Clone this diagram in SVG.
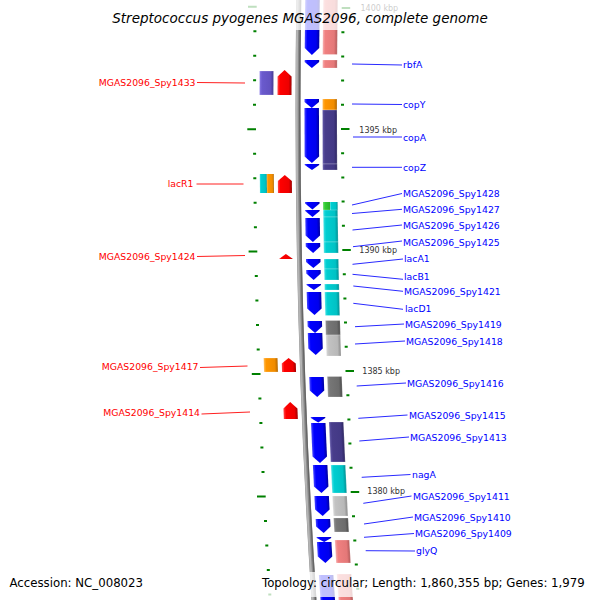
<svg xmlns="http://www.w3.org/2000/svg" width="600" height="600" viewBox="0 0 600 600">
<defs>
<linearGradient id="gBlue" x1="0" y1="0" x2="1" y2="0"><stop offset="0" stop-color="#4848ff"/><stop offset="0.18" stop-color="#0000ff"/><stop offset="0.78" stop-color="#0000ee"/><stop offset="1" stop-color="#0000a0"/></linearGradient>
<linearGradient id="gRed" x1="0" y1="0" x2="1" y2="0"><stop offset="0" stop-color="#ff4848"/><stop offset="0.18" stop-color="#ff0000"/><stop offset="0.78" stop-color="#ee0000"/><stop offset="1" stop-color="#a00000"/></linearGradient>
<linearGradient id="gPink" x1="0" y1="0" x2="1" y2="0"><stop offset="0" stop-color="#f6a8a8"/><stop offset="0.18" stop-color="#f08080"/><stop offset="0.78" stop-color="#e47878"/><stop offset="1" stop-color="#b05858"/></linearGradient>
<linearGradient id="gOrange" x1="0" y1="0" x2="1" y2="0"><stop offset="0" stop-color="#ffb84a"/><stop offset="0.18" stop-color="#ff9600"/><stop offset="0.78" stop-color="#f08c00"/><stop offset="1" stop-color="#b06600"/></linearGradient>
<linearGradient id="gDslate" x1="0" y1="0" x2="1" y2="0"><stop offset="0" stop-color="#6258a8"/><stop offset="0.18" stop-color="#483d8b"/><stop offset="0.78" stop-color="#433985"/><stop offset="1" stop-color="#2e2760"/></linearGradient>
<linearGradient id="gSlate" x1="0" y1="0" x2="1" y2="0"><stop offset="0" stop-color="#8878e6"/><stop offset="0.18" stop-color="#6a5acd"/><stop offset="0.78" stop-color="#6252c0"/><stop offset="1" stop-color="#463c90"/></linearGradient>
<linearGradient id="gTeal" x1="0" y1="0" x2="1" y2="0"><stop offset="0" stop-color="#40e0e2"/><stop offset="0.18" stop-color="#00ced1"/><stop offset="0.78" stop-color="#00c2c5"/><stop offset="1" stop-color="#008f92"/></linearGradient>
<linearGradient id="gGreen" x1="0" y1="0" x2="1" y2="0"><stop offset="0" stop-color="#60dd60"/><stop offset="0.3" stop-color="#32cd32"/><stop offset="1" stop-color="#2aae2a"/></linearGradient>
<linearGradient id="gDgray" x1="0" y1="0" x2="1" y2="0"><stop offset="0" stop-color="#8e8e8e"/><stop offset="0.18" stop-color="#767676"/><stop offset="0.78" stop-color="#6c6c6c"/><stop offset="1" stop-color="#4a4a4a"/></linearGradient>
<linearGradient id="gLgray" x1="0" y1="0" x2="1" y2="0"><stop offset="0" stop-color="#d8d8d8"/><stop offset="0.18" stop-color="#c2c2c2"/><stop offset="0.78" stop-color="#b8b8b8"/><stop offset="1" stop-color="#8a8a8a"/></linearGradient>
</defs>
<style>
.fwd{fill:url(#gBlue)}
.rev{fill:url(#gRed)}
.pink{fill:url(#gPink)}
.orange{fill:url(#gOrange)}
.dslate{fill:url(#gDslate)}
.slate{fill:url(#gSlate)}
.teal{fill:url(#gTeal)}
.green{fill:url(#gGreen)}
.dgray{fill:url(#gDgray)}
.lgray{fill:url(#gLgray)}
.cog{stroke:#ffffff;stroke-opacity:0.45;stroke-width:0.5}
.lr{font-family:"DejaVu Sans","Liberation Sans",sans-serif;font-size:9.3px;fill:#0000ff}
.ll{font-family:"DejaVu Sans","Liberation Sans",sans-serif;font-size:9.3px;fill:#ff0000;text-anchor:end}
.kbp{font-family:"DejaVu Sans","Liberation Sans",sans-serif;font-size:8px;fill:#333333}
.tick{stroke:#008000;stroke-width:2;fill:none}
.cr{stroke:#2a2aff;stroke-width:1;fill:none}
.cl{stroke:#ff2020;stroke-width:1;fill:none}
.info{font-family:"DejaVu Sans","Liberation Sans",sans-serif;font-size:11.75px;fill:#000000}
</style>
<rect x="0" y="0" width="600" height="600" fill="#ffffff"/>

<g id="backbone">
<path d="M298.8,0 Q294.4,300 314,600" stroke="#8a8a8a" stroke-width="5" fill="none"/>
<path d="M297.5,0 Q293.1,300 312.7,600" stroke="#b4b4b4" stroke-width="2" fill="none"/>
<path d="M300.5,0 Q296.1,300 315.7,600" stroke="#666666" stroke-width="1.4" fill="none"/>
</g>

<g id="ticks" class="tick">
<path d="M341.7,8H350.2M256.7,6.8H248"/>
<path d="M341.4,32.2h3M253.4,31.3h3M341.2,56.4h3M253.2,55.8h3M341.1,80.6h3M253.1,80.3h3M341,104.8h3M253,104.7h3"/>
<path d="M341,129H349.5M256,129.2H247.3"/>
<path d="M341.1,153.2h3M253.1,153.7h3M341.3,177.4h3M253.3,178.2h3M341.6,201.6h3M253.6,202.7h3M341.9,225.8h3M253.9,227.2h3"/>
<path d="M342.3,250H350.8M257.3,251.6H248.6"/>
<path d="M342.8,274.2h3M254.8,276.1h3M343.4,298.4h3M255.4,300.6h3M344,322.6h3M256,325.1h3M344.7,346.8h3M256.7,349.6h3"/>
<path d="M345.5,371H354M260.5,374.1H251.8"/>
<path d="M346.4,395.2h3M258.4,398.5h3M347.4,419.4h3M259.4,423h3M348.4,443.6h3M260.4,447.5h3M349.5,467.8h3M261.5,472h3"/>
<path d="M350.7,492H359.2M265.7,496.5H257"/>
<path d="M352,516.2h3M264,521h3M353.3,540.4h3M265.3,545.4h3M354.8,564.6h3M266.8,569.9h3M356.3,588.8h3M268.3,594.4h3"/>
</g>

<g id="scale-labels">
<text class="kbp" x="360.5" y="11">1400 kbp</text>
<text class="kbp" x="359.3" y="132.5">1395 kbp</text>
<text class="kbp" x="359.3" y="253">1390 kbp</text>
<text class="kbp" x="362.3" y="374">1385 kbp</text>
<text class="kbp" x="367.3" y="494">1380 kbp</text>
</g>

<g id="connectors">
<path class="cr" d="M352,64L402,65"/>
<path class="cr" d="M352,104L402,104.5"/>
<path class="cr" d="M353,137L402,137"/>
<path class="cr" d="M352,167.3L402,167.3"/>
<path class="cr" d="M352,205L402,193.5"/>
<path class="cr" d="M352,213.5L402,209.3"/>
<path class="cr" d="M352.5,230L402,225"/>
<path class="cr" d="M353,246.7L402,241"/>
<path class="cr" d="M352.5,264.3L403,259"/>
<path class="cr" d="M352.5,274.3L403,279.3"/>
<path class="cr" d="M353.3,286L403,291.3"/>
<path class="cr" d="M353.3,303.3L403,309.3"/>
<path class="cr" d="M355,326.7L404,324"/>
<path class="cr" d="M355,344L405,341"/>
<path class="cr" d="M356.7,386L406,383"/>
<path class="cr" d="M358.3,418.3L407.5,415"/>
<path class="cr" d="M359.3,441L409,437"/>
<path class="cr" d="M361.7,477.3L410.5,474.5"/>
<path class="cr" d="M363.3,503.3L411.5,496"/>
<path class="cr" d="M364,524L413,517"/>
<path class="cr" d="M364,537.3L414,533.5"/>
<path class="cr" d="M365.7,550.7L415,551"/>
<path class="cl" d="M197,82.5L245,83"/>
<path class="cl" d="M196.5,184L243.5,184"/>
<path class="cl" d="M197,256.5L245,255.5"/>
<path class="cl" d="M200,367.5L247.5,366"/>
<path class="cl" d="M201.5,414L250,412"/>
</g>

<g id="f-top"><g transform="translate(298.45,27.5) skewX(-0.63)"><polygon class="fwd" points="6.5,-36 21,-36 21,20.5 13.75,27.5 6.5,20.5"/><rect class="pink cog" x="24.5" y="-36" width="14.5" height="63"/></g></g>
<g id="f-rbfA"><g transform="translate(298.14,64) skewX(-0.35)"><polygon class="fwd" points="6.5,-4 21,-4 21,-2 13.75,4 6.5,-2"/><rect class="pink cog" x="24.5" y="-4" width="14.5" height="8"/></g><text class="lr" x="403" y="68">rbfA</text></g>
<g id="f-copY"><g transform="translate(298,103.5)"><polygon class="fwd" points="6.5,-4.5 21,-4.5 21,-1.5 13.75,4.5 6.5,-1.5"/><rect class="orange cog" x="24.5" y="-4.5" width="14.5" height="11"/></g><text class="lr" x="403" y="108">copY</text></g>
<g id="f-copA"><g transform="translate(298.04,135.5) skewX(0.19)"><polygon class="fwd" points="6.5,-27.5 21,-27.5 21,21 13.75,27.5 6.5,21"/><rect class="dslate cog" x="24.5" y="-25.5" width="14.5" height="54"/></g><text class="lr" x="403" y="141">copA</text></g>
<g id="f-copZ"><g transform="translate(298.22,167) skewX(0.43)"><polygon class="fwd" points="6.5,-3 21,-3 21,-2 13.75,3 6.5,-2"/><rect class="dslate cog" x="24.5" y="-3" width="14.5" height="6"/></g><text class="lr" x="403" y="171">copZ</text></g>
<g id="f-Spy1428"><g transform="translate(298.61,205.5) skewX(0.73)"><polygon class="fwd" points="6.5,-3.5 21,-3.5 21,-2 13.75,4 6.5,-2"/><rect class="green" x="24.5" y="-3.5" width="7" height="8"/><rect class="teal" x="31.5" y="-3.5" width="7.5" height="8"/></g><text class="lr" x="403" y="197">MGAS2096_Spy1428</text></g>
<g id="f-Spy1427"><g transform="translate(298.71,213.5) skewX(0.79)"><polygon class="fwd" points="6.5,-3.5 21,-3.5 21,-2.5 13.75,3.5 6.5,-2.5"/><rect class="teal cog" x="24.5" y="-3.5" width="14.5" height="7"/></g><text class="lr" x="403" y="213">MGAS2096_Spy1427</text></g>
<g id="f-Spy1426"><g transform="translate(298.96,230) skewX(0.92)"><polygon class="fwd" points="6.5,-12 21,-12 21,5.5 13.75,12 6.5,5.5"/><rect class="teal cog" x="24.5" y="-13" width="14.5" height="25"/></g><text class="lr" x="403" y="229">MGAS2096_Spy1426</text></g>
<g id="f-Spy1425"><g transform="translate(299.27,248) skewX(1.05)"><polygon class="fwd" points="6.5,-5 21,-5 21,-1.5 13.75,5 6.5,-1.5"/><rect class="teal cog" x="24.5" y="-6" width="14.5" height="11"/></g><text class="lr" x="403" y="246">MGAS2096_Spy1425</text></g>
<g id="f-lacA1"><g transform="translate(299.57,263.5) skewX(1.17)"><polygon class="fwd" points="6.5,-4.5 21,-4.5 21,-1.5 13.75,4.5 6.5,-1.5"/><rect class="teal cog" x="24.5" y="-4.5" width="14.5" height="10"/></g><text class="lr" x="404" y="262">lacA1</text></g>
<g id="f-lacB1"><g transform="translate(299.81,275) skewX(1.26)"><polygon class="fwd" points="6.5,-5 21,-5 21,-1.5 13.75,5 6.5,-1.5"/><rect class="teal cog" x="24.5" y="-6" width="14.5" height="11"/></g><text class="lr" x="404" y="280">lacB1</text></g>
<g id="f-Spy1421"><g transform="translate(300.09,287) skewX(1.35)"><polygon class="fwd" points="6.5,-3 21,-3 21,-2 13.75,3 6.5,-2"/><rect class="teal cog" x="24.5" y="-3" width="14.5" height="6"/></g><text class="lr" x="404" y="295">MGAS2096_Spy1421</text></g>
<g id="f-lacD1"><g transform="translate(300.49,303.5) skewX(1.48)"><polygon class="fwd" points="6.5,-11.5 21,-11.5 21,5 13.75,11.5 6.5,5"/><rect class="teal cog" x="24.5" y="-11.5" width="14.5" height="23.5"/></g><text class="lr" x="405" y="312">lacD1</text></g>
<g id="f-Spy1419"><g transform="translate(301.14,327) skewX(1.66)"><polygon class="fwd" points="6.5,-6 21,-6 21,-0.5 13.75,6 6.5,-0.5"/><rect class="dgray cog" x="24.5" y="-6.5" width="14.5" height="14.5"/></g><text class="lr" x="405" y="328">MGAS2096_Spy1419</text></g>
<g id="f-Spy1418"><g transform="translate(301.65,344) skewX(1.79)"><polygon class="fwd" points="6.5,-11 21,-11 21,4.5 13.75,11 6.5,4.5"/><rect class="lgray cog" x="24.5" y="-9" width="14.5" height="21"/></g><text class="lr" x="406" y="345">MGAS2096_Spy1418</text></g>
<g id="f-Spy1416"><g transform="translate(303.11,387) skewX(2.11)"><polygon class="fwd" points="6.5,-10 21,-10 21,3.5 13.75,10 6.5,3.5"/><rect class="dgray cog" x="24.5" y="-10.5" width="14.5" height="20.5"/></g><text class="lr" x="407" y="387">MGAS2096_Spy1416</text></g>
<g id="f-Spy1415"><g transform="translate(304.38,419.5) skewX(2.36)"><polygon class="fwd" points="6.5,-2.5 21,-2.5 21,-1.5 13.75,3 6.5,-1.5"/></g><text class="lr" x="409" y="419">MGAS2096_Spy1415</text></g>
<g id="f-Spy1413"><g transform="translate(305.39,443) skewX(2.54)"><polygon class="fwd" points="6.5,-20 21,-20 21,13.5 13.75,20 6.5,13.5"/><rect class="dslate cog" x="24.5" y="-21" width="14.5" height="40"/></g><text class="lr" x="410" y="441">MGAS2096_Spy1413</text></g>
<g id="f-nagA"><g transform="translate(307.07,479) skewX(2.82)"><polygon class="fwd" points="6.5,-14 21,-14 21,7.5 13.75,14 6.5,7.5"/><rect class="teal cog" x="24.5" y="-14" width="14.5" height="28"/></g><text class="lr" x="412" y="478">nagA</text></g>
<g id="f-Spy1411"><g transform="translate(308.4,506) skewX(3.03)"><polygon class="fwd" points="6.5,-10 21,-10 21,3.5 13.75,10 6.5,3.5"/><rect class="lgray cog" x="24.5" y="-10" width="14.5" height="20"/></g><text class="lr" x="413" y="500">MGAS2096_Spy1411</text></g>
<g id="f-Spy1410"><g transform="translate(309.53,526) skewX(3.17)"><polygon class="fwd" points="6.5,-7 21,-7 21,0.5 13.75,7 6.5,0.5"/><rect class="dgray cog" x="24.5" y="-8" width="14.5" height="14"/></g><text class="lr" x="414" y="521">MGAS2096_Spy1410</text></g>
<g id="f-glyQ"><g transform="translate(311.04,552.5) skewX(3.38)"><polygon class="fwd" points="6.5,-10.5 21,-10.5 21,4 13.75,10.5 6.5,4"/><rect class="pink cog" x="24.5" y="-12.5" width="14.5" height="23"/></g><text class="lr" x="416" y="554">glyQ</text></g>
<g id="f-Spy1409"><g transform="translate(310.29,539.5) skewX(3.28)"><polygon class="fwd" points="6.5,-2.5 21,-2.5 21,-1.5 13.75,2.5 6.5,-1.5"/></g><text class="lr" x="415" y="537">MGAS2096_Spy1409</text></g>
<g id="f-bottom"><g transform="translate(313.47,592) skewX(3.68)"><rect class="fwd" x="6.5" y="-17" width="14.5" height="30"/><rect class="pink cog" x="24.5" y="-18" width="14.5" height="30"/></g></g>

<g id="f-Spy1433"><g transform="translate(298.05,82.5) skewX(-0.21)"><polygon class="rev" points="-20.5,12.5 -20.5,-6 -13.5,-12.5 -6.5,-6 -6.5,12.5"/><rect class="slate cog" x="-38.5" y="-11.5" width="14" height="24"/></g><text class="ll" x="195.5" y="85.5">MGAS2096_Spy1433</text></g>
<g id="f-lacR1"><g transform="translate(298.38,184) skewX(0.56)"><polygon class="rev" points="-20.5,9 -20.5,-3 -13.5,-9 -6.5,-3 -6.5,9"/><rect class="teal" x="-38.5" y="-10" width="7" height="19"/><rect class="orange" x="-31.5" y="-10" width="7" height="19"/></g><text class="ll" x="193.5" y="186.5">lacR1</text></g>
<g id="f-Spy1424"><g transform="translate(299.42,256.5) skewX(1.12)"><polygon class="rev" points="-20.5,2.5 -13.5,-2.5 -6.5,2.5"/></g><text class="ll" x="195.5" y="259.5">MGAS2096_Spy1424</text></g>
<g id="f-Spy1417"><g transform="translate(302.33,365) skewX(1.95)"><polygon class="rev" points="-20.5,7 -20.5,-1.5 -13.5,-7 -6.5,-1.5 -6.5,7"/><rect class="orange cog" x="-38.5" y="-7" width="14" height="14"/></g><text class="ll" x="198.5" y="370">MGAS2096_Spy1417</text></g>
<g id="f-Spy1414"><g transform="translate(304.01,410.5) skewX(2.29)"><polygon class="rev" points="-20.5,8.5 -20.5,-2 -13.5,-8.5 -6.5,-2 -6.5,8.5"/></g><text class="ll" x="200" y="416">MGAS2096_Spy1414</text></g>

<g id="legend">
<rect x="108" y="0" width="384" height="30" fill="#ffffff" fill-opacity="0.75"/>
<rect x="258" y="572" width="338" height="25" fill="#ffffff" fill-opacity="0.75"/>
<text x="300" y="23" text-anchor="middle" font-family="'DejaVu Sans','Liberation Sans',sans-serif" font-style="italic" font-size="13.5" fill="#000000">Streptococcus pyogenes MGAS2096, complete genome</text>
<text class="info" x="9.5" y="587">Accession: NC_008023</text>
<text class="info" x="262" y="587">Topology: circular; Length: 1,860,355 bp; Genes: 1,979</text>
</g>
</svg>
